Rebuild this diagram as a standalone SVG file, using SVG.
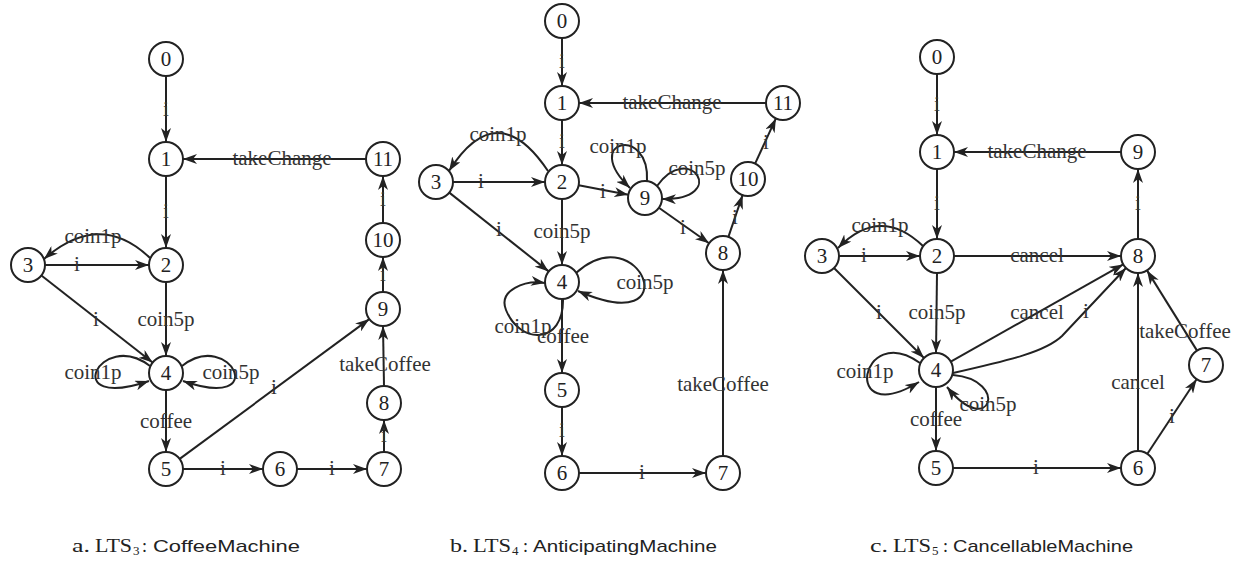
<svg xmlns="http://www.w3.org/2000/svg" width="1247" height="563" viewBox="0 0 1247 563">
<defs>
<marker id="arr" markerUnits="userSpaceOnUse" viewBox="0 0 14 10" markerWidth="14" markerHeight="10" refX="14" refY="5" orient="auto">
<path d="M0,0 L14,5 L0,10 L4,5 z" fill="#222"/>
</marker>
<style>
.n circle{fill:#fff;stroke:#222;stroke-width:2}
.n text{font-family:"Liberation Serif",serif;font-size:21px;text-anchor:middle;fill:#222}
.e path{fill:none;stroke:#222;stroke-width:2;marker-end:url(#arr)}
.e text{font-family:"Liberation Serif",serif;font-size:21px;text-anchor:middle;fill:#333}
.cs{font-family:"Liberation Serif",serif;font-size:18px;fill:#222}
.cb{font-family:"Liberation Serif",serif;font-size:13px;fill:#222}
.cn{font-family:"Liberation Sans","DejaVu Sans",sans-serif;font-size:17px;fill:#222}
</style>
</defs>
<rect width="1247" height="563" fill="#fff"/>

<!-- connectors -->
<g id="connectors" class="e">
<!-- a -->
<path d="M166,76 L166,142"/>
<path d="M166,176 L166,248"/>
<path d="M366,159 L183,159"/>
<path d="M383,223 L383,176"/>
<path d="M383,292 L383,257"/>
<path d="M384,386 L383,326"/>
<path d="M384,452 L384,420"/>
<path d="M183,469 L263,469"/>
<path d="M297,469 L367,469"/>
<path d="M179.7,458.9 L369.3,319.1"/>
<path d="M45,265 L149,265"/>
<path d="M150,258 Q100,210 44,259"/>
<path d="M41.4,275.5 L152.6,362.5"/>
<path d="M166,282 L166,356"/>
<path d="M150,366 C100,328 58,412 149,381"/>
<path d="M182,366 C230,328 272,412 183,381"/>
<path d="M166,390 L166,452"/>
<text x="166" y="116">i</text>
<text x="166" y="218">i</text>
<text x="282" y="165">takeChange</text>
<text x="383" y="206">i</text>
<text x="383" y="281">i</text>
<text x="385" y="371">takeCoffee</text>
<text x="384" y="442">i</text>
<text x="223" y="475">i</text>
<text x="332" y="475">i</text>
<text x="274" y="394">i</text>
<text x="77" y="271">i</text>
<text x="93" y="243">coin1p</text>
<text x="96" y="326">i</text>
<text x="166" y="326">coin5p</text>
<text x="93" y="379">coin1p</text>
<text x="231" y="379">coin5p</text>
<text x="166" y="428">coffee</text>
<!-- b -->
<path d="M562,38 L562,86"/>
<path d="M562,120 L562,165"/>
<path d="M766,103 L579,103"/>
<path d="M548,171 Q497,95 449,171"/>
<path d="M453,182 L545,182"/>
<path d="M578.7,185.2 L628.3,194.8"/>
<path d="M647,181 C650,125 580,140 630,188"/>
<path d="M657,186 C690,140 730,200 662,199"/>
<path d="M658.9,207.8 L709.1,243.2"/>
<path d="M728.4,236.9 L742.6,195.1"/>
<path d="M755.1,163.6 L775.9,118.4"/>
<path d="M449.3,192.6 L548.7,271.4"/>
<path d="M562,199 L562,265"/>
<path d="M576,273 C640,215 690,340 578,291"/>
<path d="M563,299 C564,345 520,345 506,310 C498,290 525,280 545,283"/>
<path d="M562,299 L562,373"/>
<path d="M562,407 L562,456"/>
<path d="M579,473 L706,473"/>
<path d="M723,456 L723,270"/>
<text x="562" y="68">i</text>
<text x="562" y="148">i</text>
<text x="672" y="109">takeChange</text>
<text x="498" y="141">coin1p</text>
<text x="481" y="188">i</text>
<text x="603" y="198">i</text>
<text x="618" y="153">coin1p</text>
<text x="697" y="175">coin5p</text>
<text x="683" y="234">i</text>
<text x="735" y="224">i</text>
<text x="766" y="149">i</text>
<text x="499" y="236">i</text>
<text x="562" y="238">coin5p</text>
<text x="645" y="289">coin5p</text>
<text x="523" y="333">coin1p</text>
<text x="563" y="343">coffee</text>
<text x="562" y="437">i</text>
<text x="642" y="479">i</text>
<text x="723" y="391">takeCoffee</text>
<!-- c -->
<path d="M937,74 L937,135"/>
<path d="M937,169 L937,239"/>
<path d="M1121,152 L954,152"/>
<path d="M1138,239 L1138,169"/>
<path d="M923,246 Q880,205 838,248"/>
<path d="M839,256 L920,256"/>
<path d="M954,256 L1121,256"/>
<path d="M834,268 L924,358"/>
<path d="M937,273 L936,353"/>
<path d="M950.8,361.6 L1123.2,264.4"/>
<path d="M953,373 C1010,360 1045,352 1062,336 L1126,268"/>
<path d="M920,363 C860,320 840,430 919,382"/>
<path d="M953,375 C1010,380 990,440 947,387"/>
<path d="M936,387 L936,451"/>
<path d="M953,468 L1121,468"/>
<path d="M1138,451 L1138,273"/>
<path d="M1147.4,453.8 L1196.6,379.2"/>
<path d="M1197,350.6 L1147,270.4"/>
<text x="937" y="111">i</text>
<text x="937" y="210">i</text>
<text x="1037" y="158">takeChange</text>
<text x="1138" y="210">i</text>
<text x="880" y="232">coin1p</text>
<text x="864" y="262">i</text>
<text x="1037" y="262">cancel</text>
<text x="879" y="319">i</text>
<text x="937" y="319">coin5p</text>
<text x="1037" y="319">cancel</text>
<text x="1086" y="318">i</text>
<text x="865" y="378">coin1p</text>
<text x="988" y="411">coin5p</text>
<text x="936" y="426">coffee</text>
<text x="1036" y="474">i</text>
<text x="1138" y="389">cancel</text>
<text x="1172" y="423">i</text>
<text x="1185" y="338">takeCoffee</text>
</g>

<!-- nodes a -->
<g id="a0" class="n"><circle cx="166" cy="59" r="17"/><text x="166" y="66">0</text></g>
<g id="a1" class="n"><circle cx="166" cy="159" r="17"/><text x="166" y="166">1</text></g>
<g id="a11" class="n"><circle cx="383" cy="159" r="17"/><text x="383" y="166">11</text></g>
<g id="a10" class="n"><circle cx="383" cy="240" r="17"/><text x="383" y="247">10</text></g>
<g id="a3" class="n"><circle cx="28" cy="265" r="17"/><text x="28" y="272">3</text></g>
<g id="a2" class="n"><circle cx="166" cy="265" r="17"/><text x="166" y="272">2</text></g>
<g id="a9" class="n"><circle cx="383" cy="309" r="17"/><text x="383" y="316">9</text></g>
<g id="a4" class="n"><circle cx="166" cy="373" r="17"/><text x="166" y="380">4</text></g>
<g id="a8" class="n"><circle cx="384" cy="403" r="17"/><text x="384" y="410">8</text></g>
<g id="a5" class="n"><circle cx="166" cy="469" r="17"/><text x="166" y="476">5</text></g>
<g id="a6" class="n"><circle cx="280" cy="469" r="17"/><text x="280" y="476">6</text></g>
<g id="a7" class="n"><circle cx="384" cy="469" r="17"/><text x="384" y="476">7</text></g>

<!-- nodes b -->
<g id="b0" class="n"><circle cx="562" cy="21" r="17"/><text x="562" y="28">0</text></g>
<g id="b1" class="n"><circle cx="562" cy="103" r="17"/><text x="562" y="110">1</text></g>
<g id="b11" class="n"><circle cx="783" cy="103" r="17"/><text x="783" y="110">11</text></g>
<g id="b3" class="n"><circle cx="436" cy="182" r="17"/><text x="436" y="189">3</text></g>
<g id="b2" class="n"><circle cx="562" cy="182" r="17"/><text x="562" y="189">2</text></g>
<g id="b9" class="n"><circle cx="645" cy="198" r="17"/><text x="645" y="205">9</text></g>
<g id="b10" class="n"><circle cx="748" cy="179" r="17"/><text x="748" y="186">10</text></g>
<g id="b8" class="n"><circle cx="723" cy="253" r="17"/><text x="723" y="260">8</text></g>
<g id="b4" class="n"><circle cx="562" cy="282" r="17"/><text x="562" y="289">4</text></g>
<g id="b5" class="n"><circle cx="562" cy="390" r="17"/><text x="562" y="397">5</text></g>
<g id="b6" class="n"><circle cx="562" cy="473" r="17"/><text x="562" y="480">6</text></g>
<g id="b7" class="n"><circle cx="723" cy="473" r="17"/><text x="723" y="480">7</text></g>

<!-- nodes c -->
<g id="c0" class="n"><circle cx="937" cy="57" r="17"/><text x="937" y="64">0</text></g>
<g id="c1" class="n"><circle cx="937" cy="152" r="17"/><text x="937" y="159">1</text></g>
<g id="c9" class="n"><circle cx="1138" cy="152" r="17"/><text x="1138" y="159">9</text></g>
<g id="c3" class="n"><circle cx="822" cy="256" r="17"/><text x="822" y="263">3</text></g>
<g id="c2" class="n"><circle cx="937" cy="256" r="17"/><text x="937" y="263">2</text></g>
<g id="c8" class="n"><circle cx="1138" cy="256" r="17"/><text x="1138" y="263">8</text></g>
<g id="c4" class="n"><circle cx="936" cy="370" r="17"/><text x="936" y="377">4</text></g>
<g id="c7" class="n"><circle cx="1206" cy="365" r="17"/><text x="1206" y="372">7</text></g>
<g id="c5" class="n"><circle cx="936" cy="468" r="17"/><text x="936" y="475">5</text></g>
<g id="c6" class="n"><circle cx="1138" cy="468" r="17"/><text x="1138" y="475">6</text></g>

<!-- captions -->
<g id="caption-a">
<text class="cs" x="72" y="552" textLength="18" lengthAdjust="spacingAndGlyphs">a.</text>
<text class="cs" x="95" y="552" textLength="37" lengthAdjust="spacingAndGlyphs">LTS</text>
<text class="cb" x="133" y="555">3</text>
<text class="cs" x="142" y="552">:</text>
<text class="cn" x="153" y="552" textLength="147" lengthAdjust="spacingAndGlyphs">CoffeeMachine</text>
</g>
<g id="caption-b">
<text class="cs" x="450" y="552" textLength="18" lengthAdjust="spacingAndGlyphs">b.</text>
<text class="cs" x="473" y="552" textLength="38" lengthAdjust="spacingAndGlyphs">LTS</text>
<text class="cb" x="512" y="555">4</text>
<text class="cs" x="523" y="552">:</text>
<text class="cn" x="533" y="552" textLength="184" lengthAdjust="spacingAndGlyphs">AnticipatingMachine</text>
</g>
<g id="caption-c">
<text class="cs" x="870" y="552" textLength="18" lengthAdjust="spacingAndGlyphs">c.</text>
<text class="cs" x="893" y="552" textLength="38" lengthAdjust="spacingAndGlyphs">LTS</text>
<text class="cb" x="932" y="555">5</text>
<text class="cs" x="943" y="552">:</text>
<text class="cn" x="953" y="552" textLength="180" lengthAdjust="spacingAndGlyphs">CancellableMachine</text>
</g>
</svg>
